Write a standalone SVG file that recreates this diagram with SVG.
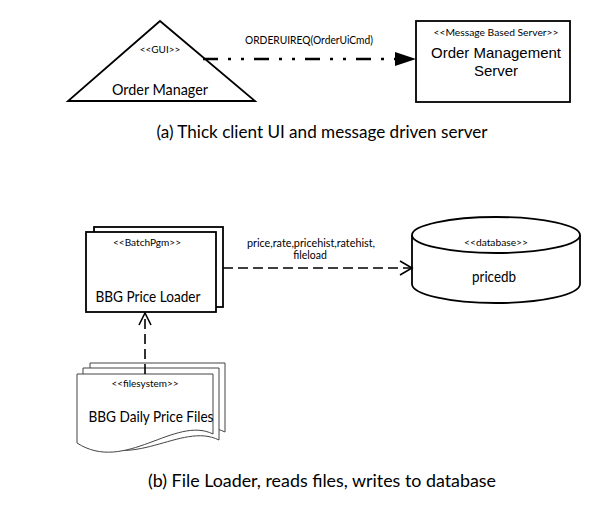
<svg xmlns="http://www.w3.org/2000/svg" width="616" height="516" viewBox="0 0 616 516">
<style>
.shape{fill:#fff;stroke:#000;stroke-width:1.8}
.doc{fill:#fff;stroke:#444;stroke-width:1}
.cal{font-family:Lato,"Open Sans","Noto Sans",sans-serif;fill:#000}
.ari{font-family:"Liberation Sans",Arial,sans-serif;fill:#000}
.st{font-size:10px}
.lbl{font-size:10.5px}
.big{font-size:15px}
.cap{font-size:16.5px}
.dash{fill:none;stroke:#000;stroke-width:1.6;stroke-dasharray:10 5}
</style>
<rect width="616" height="516" fill="#fff"/>

<g id="order-manager">
<polygon class="shape" points="160,21 68,101 255,101"/>
<text class="cal st" x="160" y="53" text-anchor="middle">&lt;&lt;GUI&gt;&gt;</text>
<text class="cal big" x="160" y="95" text-anchor="middle" textLength="96" lengthAdjust="spacingAndGlyphs">Order Manager</text>
</g>

<g id="order-management-server">
<rect class="shape" x="416" y="21" width="154" height="81"/>
<text class="cal st" x="496" y="36" text-anchor="middle" textLength="125" lengthAdjust="spacingAndGlyphs">&lt;&lt;Message Based Server&gt;&gt;</text>
<text class="ari big" x="496" y="58" text-anchor="middle" textLength="130" lengthAdjust="spacingAndGlyphs">Order Management</text>
<text class="ari big" x="496" y="76" text-anchor="middle">Server</text>
</g>

<text id="caption-a" class="cal cap" x="322" y="138" text-anchor="middle" textLength="331" lengthAdjust="spacingAndGlyphs">(a) Thick client UI and message driven server</text>

<g id="bbg-price-loader">
<rect class="shape" x="94" y="227" width="129" height="80"/>
<rect class="shape" x="86" y="232" width="130" height="80"/>
<text class="cal st" x="147" y="246" text-anchor="middle" textLength="68" lengthAdjust="spacingAndGlyphs">&lt;&lt;BatchPgm&gt;&gt;</text>
<text class="cal big" x="148" y="302" text-anchor="middle" textLength="105" lengthAdjust="spacingAndGlyphs">BBG Price Loader</text>
</g>

<g id="pricedb">
<path class="shape" d="M412,235 V284 A84,19 0 0 0 580,284 V235"/>
<ellipse class="shape" cx="496" cy="235" rx="84" ry="18"/>
<text class="cal st" x="496" y="246" text-anchor="middle" textLength="64" lengthAdjust="spacingAndGlyphs">&lt;&lt;database&gt;&gt;</text>
<text class="cal big" x="494" y="282" text-anchor="middle" textLength="44" lengthAdjust="spacingAndGlyphs">pricedb</text>
</g>

<g id="bbg-daily-price-files">
<path class="doc" d="M90,363 H225 V432 C187,413 137,468 90,432 Z"/>
<path class="doc" d="M83,368 H219 V440 C181,421 131,474 83,437 Z"/>
<path class="doc" d="M77,374 H213 V434 C175,415 125,474 77,443 Z"/>
<text class="cal st" x="145" y="387" text-anchor="middle" textLength="67" lengthAdjust="spacingAndGlyphs">&lt;&lt;filesystem&gt;&gt;</text>
<text class="cal big" x="151" y="422" text-anchor="middle" textLength="125" lengthAdjust="spacingAndGlyphs">BBG Daily Price Files</text>
</g>

<text id="caption-b" class="cal cap" x="322" y="487" text-anchor="middle" textLength="348" lengthAdjust="spacingAndGlyphs">(b) File Loader, reads files, writes to database</text>

<g id="connectors">
<line x1="203" y1="59" x2="396" y2="59" stroke="#000" stroke-width="2.5" stroke-dasharray="15 10 3 10 3 10"/>
<polygon points="395,52 416,59 395,66" fill="#000"/>
<text class="cal lbl" x="309" y="44" text-anchor="middle" textLength="128" lengthAdjust="spacingAndGlyphs">ORDERUIREQ(OrderUiCmd)</text>

<line class="dash" x1="223" y1="268" x2="411" y2="268"/>
<polyline points="400,261 412,268 400,275" fill="none" stroke="#000" stroke-width="1.6"/>
<text class="cal lbl" x="311" y="247" text-anchor="middle" textLength="128" lengthAdjust="spacingAndGlyphs">price,rate,pricehist,ratehist,</text>
<text class="cal lbl" x="310" y="259" text-anchor="middle">fileload</text>

<line class="dash" x1="145" y1="374" x2="145" y2="314"/>
<polyline points="139,325 145,313 151,325" fill="none" stroke="#000" stroke-width="1.6"/>
</g>
</svg>
